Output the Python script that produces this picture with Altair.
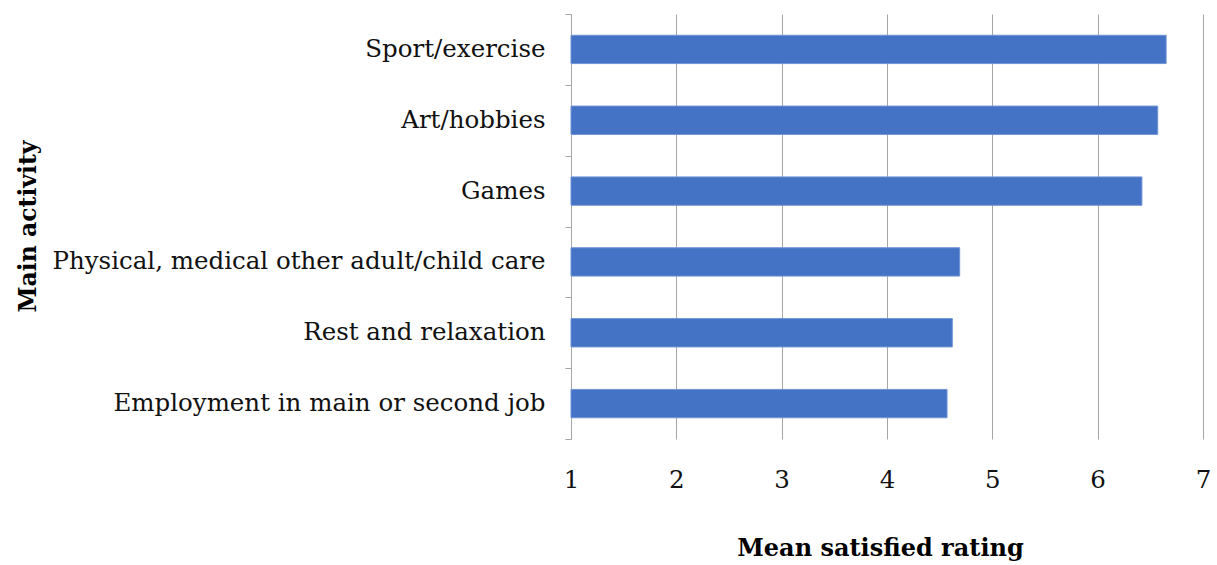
import altair as alt
import pandas as pd

activities = [
    "Sport/exercise",
    "Art/hobbies",
    "Games",
    "Physical, medical other adult/child care",
    "Rest and relaxation",
    "Employment in main or second job",
]
ratings = [6.65, 6.57, 6.42, 4.69, 4.62, 4.57]
x_ticks = [1, 2, 3, 4, 5, 6, 7]

df = pd.DataFrame({"activity": activities, "rating": ratings, "base": [1] * len(ratings)})

FONT = "DejaVu Serif"
GRID = "#a6a6a6"

chart = (
    alt.Chart(df)
    .mark_bar(color="#4472C4", stroke="#6f93d4", strokeWidth=1, height={"band": 0.4})
    .encode(
        y=alt.Y(
            "activity:N",
            sort=activities,
            scale=alt.Scale(paddingInner=0, paddingOuter=0),
            axis=alt.Axis(
                title="Main activity",
                titleFont=FONT,
                titleFontSize=23.5,
                titleFontWeight="bold",
                titleColor="black",
                titleX=-543,
                titleY=212,
                titleAngle=-90,
                titleBaseline="middle",
                titleAlign="center",
                labelFont=FONT,
                labelFontSize=24.5,
                labelColor="#111",
                labelPadding=20,
                labelLimit=600,
                tickBand="extent",
                tickSize=6,
                tickColor=GRID,
                domainColor=GRID,
                grid=False,
            ),
        ),
        x=alt.X(
            "rating:Q",
            scale=alt.Scale(domain=[1, 7], nice=False, zero=False),
            axis=alt.Axis(
                title="Mean satisfied rating",
                titleFont=FONT,
                titleFontSize=24,
                titleFontWeight="bold",
                titleColor="black",
                titleX=309,
                titleY=109,
                titleBaseline="middle",
                values=x_ticks,
                labelFont=FONT,
                labelFontSize=24.5,
                labelColor="#111",
                labelPadding=41,
                labelBaseline="middle",
                labelFlush=False,
                ticks=False,
                domain=False,
                grid=True,
                gridColor=GRID,
                gridWidth=1,
            ),
        ),
        x2="base:Q",
    )
    .properties(
        width=632,
        height=425,
        background="white",
        autosize=alt.AutoSizeParams(type="none"),
        padding={"left": 571, "top": 14, "right": 14, "bottom": 126},
    )
    .configure_view(strokeWidth=0, stroke=None)
)

chart.save("out.html", embed_options={"renderer": "svg", "actions": False})
